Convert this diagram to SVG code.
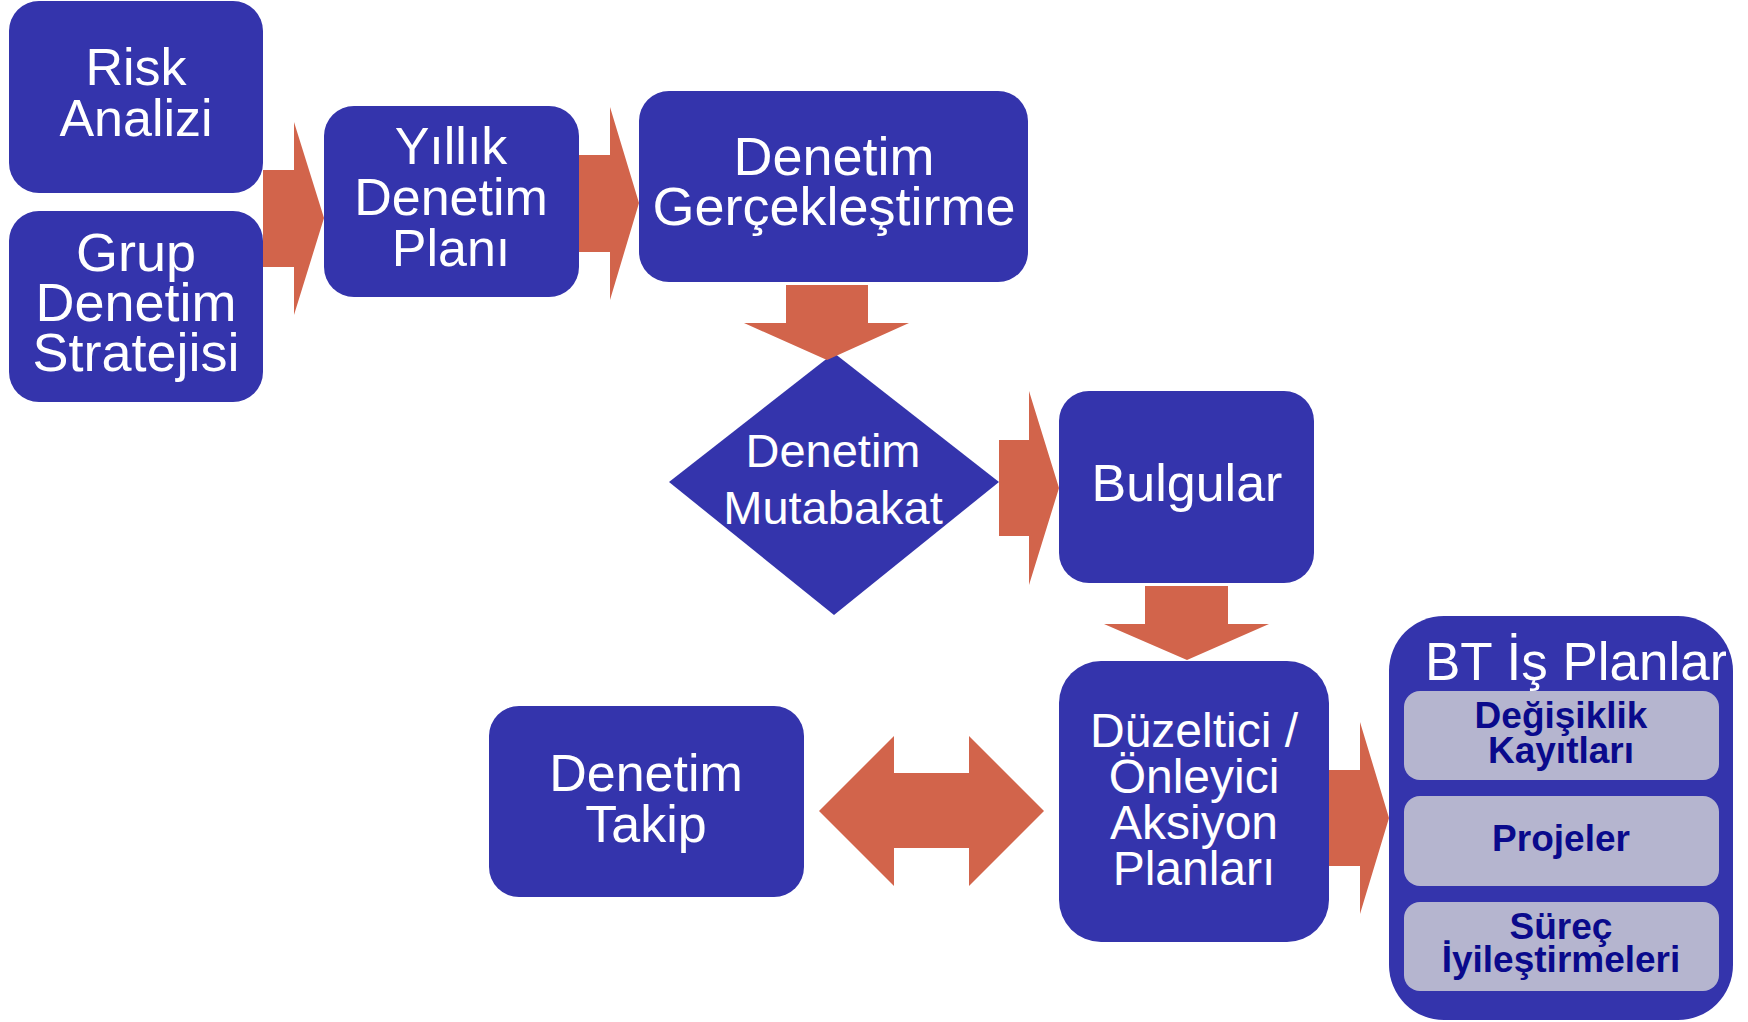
<svg xmlns="http://www.w3.org/2000/svg" width="1748" height="1022" viewBox="0 0 1748 1022">
  <defs>
    <style>
      .box { fill: #3434AC; }
      .sub { fill: #B5B5CF; }
      .arrow { fill: #D2644B; }
      .lbl { font-family: "Liberation Sans", Arial, sans-serif; fill: #FFFFFF; text-anchor: middle; }
      .sublbl { font-family: "Liberation Sans", Arial, sans-serif; font-weight: bold; fill: #0A0A8C; text-anchor: middle; font-size: 37px; }
    </style>
    <clipPath id="titleClip">
      <rect x="1389" y="616" width="337" height="80"/>
    </clipPath>
  </defs>
  <rect width="1748" height="1022" fill="#FFFFFF"/>

  <g id="risk-analizi">
    <rect class="box" x="9" y="1" width="254" height="192" rx="30"/>
    <text class="lbl" font-size="52" x="136" y="85">Risk</text>
    <text class="lbl" font-size="52" x="136" y="136">Analizi</text>
  </g>

  <g id="grup-denetim-stratejisi">
    <rect class="box" x="9" y="211" width="254" height="191" rx="30"/>
    <text class="lbl" font-size="54" x="136" y="271">Grup</text>
    <text class="lbl" font-size="54" x="136" y="321">Denetim</text>
    <text class="lbl" font-size="54" x="136" y="371">Stratejisi</text>
  </g>

  <g id="yillik-denetim-plani">
    <rect class="box" x="324" y="106" width="255" height="191" rx="30"/>
    <text class="lbl" font-size="52" x="451" y="164">Yıllık</text>
    <text class="lbl" font-size="52" x="451" y="215">Denetim</text>
    <text class="lbl" font-size="52" x="451" y="266">Planı</text>
  </g>

  <g id="denetim-gerceklestirme">
    <rect class="box" x="639" y="91" width="389" height="191" rx="30"/>
    <text class="lbl" font-size="54" x="834" y="175">Denetim</text>
    <text class="lbl" font-size="54" x="834" y="225">Gerçekleştirme</text>
  </g>

  <g id="denetim-mutabakat">
    <polygon class="box" points="834,353 999,482 834,615 669,482"/>
    <text class="lbl" font-size="47" x="833" y="467">Denetim</text>
    <text class="lbl" font-size="47" x="833" y="524">Mutabakat</text>
  </g>

  <g id="bulgular">
    <rect class="box" x="1059" y="391" width="255" height="192" rx="30"/>
    <text class="lbl" font-size="52" x="1187" y="501">Bulgular</text>
  </g>

  <g id="duzeltici-onleyici">
    <rect class="box" x="1059" y="661" width="270" height="281" rx="42"/>
    <text class="lbl" font-size="48" x="1194" y="747">Düzeltici /</text>
    <text class="lbl" font-size="48" x="1194" y="793">Önleyici</text>
    <text class="lbl" font-size="48" x="1194" y="839">Aksiyon</text>
    <text class="lbl" font-size="48" x="1194" y="885">Planları</text>
  </g>

  <g id="denetim-takip">
    <rect class="box" x="489" y="706" width="315" height="191" rx="30"/>
    <text class="lbl" font-size="52" x="646" y="791">Denetim</text>
    <text class="lbl" font-size="52" x="646" y="842">Takip</text>
  </g>

  <g id="bt-is-planlari">
    <rect class="box" x="1389" y="616" width="344" height="404" rx="55"/>
    <text class="lbl" font-size="53" x="1425" y="680" style="text-anchor:start" clip-path="url(#titleClip)">BT İş Planları</text>
    <g id="degisiklik-kayitlari">
      <rect class="sub" x="1404" y="691" width="315" height="89" rx="16"/>
      <text class="sublbl" x="1561" y="728">Değişiklik</text>
      <text class="sublbl" x="1561" y="763">Kayıtları</text>
    </g>
    <g id="projeler">
      <rect class="sub" x="1404" y="796" width="315" height="90" rx="16"/>
      <text class="sublbl" x="1561" y="851">Projeler</text>
    </g>
    <g id="surec-iyilestirmeleri">
      <rect class="sub" x="1404" y="902" width="315" height="89" rx="16"/>
      <text class="sublbl" x="1561" y="939">Süreç</text>
      <text class="sublbl" x="1561" y="972">İyileştirmeleri</text>
    </g>
  </g>

  <g id="connectors">
    <!-- block arrows between the steps -->
    <polygon class="arrow" points="263,170 294,170 294,122 324,218 294,315 294,267 263,267"/>
    <polygon class="arrow" points="579,155 610,155 610,107 639,203 610,300 610,252 579,252"/>
    <polygon class="arrow" points="786,285 868,285 868,323 909,323 827,360 744,323 786,323"/>
    <polygon class="arrow" points="999,440 1029,440 1029,391 1059,488 1029,585 1029,536 999,536"/>
    <polygon class="arrow" points="1145,586 1228,586 1228,624 1269,624 1187,660 1104,624 1145,624"/>
    <polygon class="arrow" points="1329,770 1360,770 1360,722 1389,818 1360,914 1360,866 1329,866"/>
    <!-- two-way arrow between follow-up and action plans -->
    <polygon class="arrow" points="819,811 894,736 894,773 969,773 969,736 1044,811 969,886 969,848 894,848 894,886"/>
  </g>
</svg>
